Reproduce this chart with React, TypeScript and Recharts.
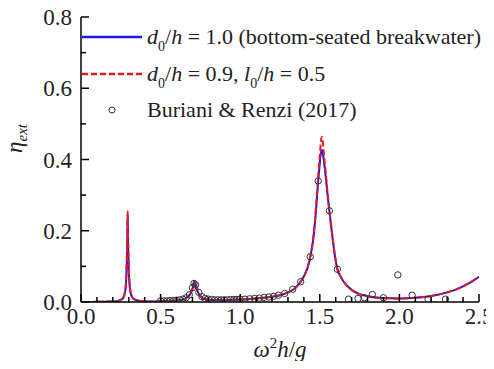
import { ComposedChart, Line, Scatter, XAxis, YAxis, Legend } from "recharts"

const serif = "'Liberation Serif', 'Times New Roman', serif"

// frequency grid shared by the two computed curves (omega^2 h / g)
const lineX = [
  0.05, 0.1, 0.15, 0.2, 0.23, 0.25, 0.26, 0.27, 0.278, 0.283, 0.286, 0.289, 0.291,
  0.293, 0.295, 0.297, 0.3, 0.304, 0.31, 0.32, 0.33, 0.35, 0.4, 0.45, 0.5, 0.55,
  0.6, 0.64, 0.67, 0.69, 0.7, 0.707, 0.713, 0.72, 0.728, 0.74, 0.76, 0.79, 0.85,
  0.9, 0.95, 1.0, 1.05, 1.1, 1.15, 1.2, 1.25, 1.3, 1.34, 1.38, 1.42, 1.44, 1.46,
  1.476, 1.49, 1.5, 1.506, 1.512, 1.518, 1.525, 1.53, 1.54, 1.55, 1.56, 1.58, 1.6,
  1.61, 1.63, 1.65, 1.7, 1.75, 1.8, 1.9, 2.0, 2.1, 2.2, 2.3, 2.35, 2.4, 2.45, 2.5,
]

// d0/h = 1.0 (bottom-seated breakwater)
const blueY = [
  0, 0.0005, 0.001, 0.0015, 0.003, 0.006, 0.009, 0.016, 0.032, 0.055, 0.085, 0.135, 0.185,
  0.245, 0.195, 0.145, 0.092, 0.055, 0.03, 0.015, 0.009, 0.005, 0.002, 0.0015, 0.002, 0.003,
  0.004, 0.007, 0.014, 0.025, 0.036, 0.048, 0.055, 0.049, 0.037, 0.022, 0.012, 0.007, 0.005,
  0.005, 0.006, 0.007, 0.008, 0.01, 0.012, 0.015, 0.019, 0.027, 0.037, 0.057, 0.092, 0.125, 0.18,
  0.256, 0.34, 0.39, 0.415, 0.427, 0.42, 0.4, 0.38, 0.34, 0.295, 0.256, 0.18, 0.115,
  0.092, 0.072, 0.057, 0.034, 0.022, 0.016, 0.011, 0.01, 0.012, 0.017, 0.027, 0.034, 0.044, 0.056, 0.071,
]

// d0/h = 0.9, l0/h = 0.5
const redY = [
  0, 0.0005, 0.001, 0.0015, 0.003, 0.006, 0.009, 0.017, 0.034, 0.058, 0.09, 0.142, 0.195,
  0.255, 0.205, 0.152, 0.097, 0.058, 0.032, 0.016, 0.009, 0.005, 0.002, 0.0015, 0.002, 0.003,
  0.004, 0.007, 0.015, 0.027, 0.039, 0.052, 0.06, 0.053, 0.04, 0.024, 0.013, 0.007, 0.005,
  0.005, 0.006, 0.007, 0.008, 0.01, 0.012, 0.015, 0.019, 0.027, 0.037, 0.058, 0.094, 0.128, 0.185,
  0.265, 0.355, 0.41, 0.445, 0.464, 0.452, 0.42, 0.395, 0.35, 0.3, 0.26, 0.182, 0.117,
  0.094, 0.073, 0.058, 0.034, 0.022, 0.016, 0.011, 0.01, 0.012, 0.017, 0.027, 0.034, 0.044, 0.056, 0.071,
]

// Buriani & Renzi (2017)
const expX = [
  0.5, 0.52, 0.54, 0.56, 0.58, 0.6, 0.62, 0.64, 0.66, 0.68, 0.7, 0.71, 0.72, 0.74, 0.76,
  0.78, 0.8, 0.82, 0.84, 0.86, 0.88, 0.9, 0.92, 0.94, 0.96, 0.98, 1.0, 1.03, 1.06, 1.09,
  1.12, 1.15, 1.18, 1.21, 1.24, 1.28, 1.33, 1.38, 1.44, 1.49, 1.56, 1.61, 1.68, 1.74,
  1.78, 1.83, 1.9, 1.99, 2.08, 2.18, 2.29,
]
const expY = [
  0.003, 0.003, 0.003, 0.004, 0.004, 0.005, 0.006, 0.008, 0.012, 0.02, 0.04, 0.052, 0.048, 0.027, 0.015,
  0.01, 0.008, 0.007, 0.006, 0.006, 0.006, 0.006, 0.006, 0.007, 0.007, 0.007, 0.008, 0.008, 0.009, 0.01,
  0.011, 0.013, 0.014, 0.016, 0.019, 0.024, 0.036, 0.057, 0.127, 0.34, 0.256, 0.092, 0.008, 0.01,
  0.012, 0.021, 0.012, 0.076, 0.019, 0.008, 0.008,
]

const xTicks = [
  0, 0.1, 0.2, 0.3, 0.4, 0.5, 0.6, 0.7, 0.8, 0.9, 1.0, 1.1, 1.2, 1.3, 1.4, 1.5, 1.6,
  1.7, 1.8, 1.9, 2.0, 2.1, 2.2, 2.3, 2.4, 2.5,
]
const yTicks = [0, 0.1, 0.2, 0.3, 0.4, 0.5, 0.6, 0.7, 0.8]

const blueData = lineX.map((x, i) => ({ x, y: blueY[i] }))
const redData = lineX.map((x, i) => ({ x, y: redY[i] }))
const expData = expX.map((x, i) => ({ x, y: expY[i] }))

const onStep = (v: number, step: number) => Math.abs(v / step - Math.round(v / step)) < 1e-6

const AXIS = { stroke: "#000", strokeWidth: 1.5 }

function BottomTick(props: any) {
  const { x, y, payload } = props
  const major = onStep(payload.value, 0.5)
  return (
    <g>
      <line x1={x} x2={x} y1={y} y2={y - (major ? 8 : 5)} stroke="#000" strokeWidth={1.5} />
      {major && (
        <text x={x} y={y + 22} textAnchor="middle" fontFamily={serif} fontSize={23} fill="#222">
          {payload.value.toFixed(1)}
        </text>
      )}
    </g>
  )
}

function TopTick(props: any) {
  const { x, y, payload } = props
  const major = onStep(payload.value, 0.5)
  return <line x1={x} x2={x} y1={y} y2={y + (major ? 8 : 5)} stroke="#000" strokeWidth={1.5} />
}

function LeftTick(props: any) {
  const { x, y, payload } = props
  const major = onStep(payload.value, 0.2)
  return (
    <g>
      <line x1={x} x2={x + (major ? 8 : 5)} y1={y} y2={y} stroke="#000" strokeWidth={1.5} />
      {major && (
        <text x={x - 9} y={y + 8} textAnchor="end" fontFamily={serif} fontSize={23} fill="#222">
          {payload.value.toFixed(1)}
        </text>
      )}
    </g>
  )
}

function RightTick(props: any) {
  const { x, y, payload } = props
  const major = onStep(payload.value, 0.2)
  return <line x1={x} x2={x - (major ? 8 : 5)} y1={y} y2={y} stroke="#000" strokeWidth={1.5} />
}

function XTitle(props: any) {
  const vb = props.viewBox
  return (
    <text x={vb.x + vb.width / 2} y={vb.y + 55} textAnchor="middle" fontFamily={serif} fontSize={23} fill="#222">
      <tspan fontStyle="italic">ω</tspan>
      <tspan fontSize={15} dy={-9}>2</tspan>
      <tspan fontStyle="italic" dy={9}>h</tspan>
      <tspan>/</tspan>
      <tspan fontStyle="italic">g</tspan>
    </text>
  )
}

function YTitle(props: any) {
  const vb = props.viewBox
  const cx = vb.x + 22
  const cy = vb.y + vb.height / 2 - 21
  return (
    <text transform={`translate(${cx},${cy}) rotate(-90)`} textAnchor="middle" fontFamily={serif} fontSize={23} fill="#222">
      <tspan fontStyle="italic">η</tspan>
      <tspan fontStyle="italic" fontSize={15} dy={5}>ext</tspan>
    </text>
  )
}

const sub = { fontSize: 14, position: "relative" as const, top: 7 }

function LegendBox() {
  const row = { display: "flex", alignItems: "center", height: 36.5, whiteSpace: "nowrap" as const }
  const label = { marginLeft: 5 }
  return (
    <div style={{ fontFamily: serif, fontSize: 22, color: "#222", lineHeight: 1 }}>
      <div style={row}>
        <svg width={60} height={10}>
          <line x1={0} x2={60} y1={5} y2={5} stroke="#1a1ae6" strokeWidth={2.5} />
        </svg>
        <span style={label}>
          <i>d</i><span style={sub}>0</span>/<i>h</i> = 1.0 (bottom-seated breakwater)
        </span>
      </div>
      <div style={row}>
        <svg width={60} height={10}>
          <line x1={0} x2={60} y1={5} y2={5} stroke="#f0141e" strokeWidth={2.5} strokeDasharray="6 3" />
        </svg>
        <span style={label}>
          <i>d</i><span style={sub}>0</span>/<i>h</i> = 0.9, <i>l</i><span style={sub}>0</span>/<i>h</i> = 0.5
        </span>
      </div>
      <div style={row}>
        <svg width={60} height={10}>
          <circle cx={30} cy={5} r={3} fill="none" stroke="#333" strokeWidth={1} />
        </svg>
        <span style={label}>Buriani &amp; Renzi (2017)</span>
      </div>
    </div>
  )
}

export default function App() {
  return (
    <div style={{ width: 494, height: 369, margin: -8, background: "#fff" }}>
      <ComposedChart width={494} height={369} margin={{ top: 17, right: 15, bottom: 0, left: 0 }}>
        <XAxis
          dataKey="x"
          type="number"
          domain={[0, 2.5]}
          ticks={xTicks}
          interval={0}
          allowDataOverflow
          height={67}
          axisLine={AXIS}
          tickLine={false}
          tickSize={0}
          tickMargin={0}
          tick={<BottomTick />}
          label={{ content: (p: any) => <XTitle {...p} /> }}
        />
        <XAxis
          xAxisId="top"
          orientation="top"
          dataKey="x"
          type="number"
          domain={[0, 2.5]}
          ticks={xTicks}
          interval={0}
          allowDataOverflow
          height={0}
          axisLine={AXIS}
          tickLine={false}
          tickSize={0}
          tickMargin={0}
          tick={<TopTick />}
        />
        <YAxis
          type="number"
          domain={[0, 0.8]}
          ticks={yTicks}
          interval={0}
          allowDataOverflow
          width={81}
          axisLine={AXIS}
          tickLine={false}
          tickSize={0}
          tickMargin={0}
          tick={<LeftTick />}
          label={{ content: (p: any) => <YTitle {...p} /> }}
        />
        <YAxis
          yAxisId="right"
          orientation="right"
          type="number"
          domain={[0, 0.8]}
          ticks={yTicks}
          interval={0}
          allowDataOverflow
          width={0}
          axisLine={AXIS}
          tickLine={false}
          tickSize={0}
          tickMargin={0}
          tick={<RightTick />}
        />
        <Legend
          layout="vertical"
          align="center"
          verticalAlign="middle"
          content={<LegendBox />}
          wrapperStyle={{ left: 82, top: 19, width: 405, height: 110 }}
        />
        <Line
          data={blueData}
          dataKey="y"
          type="monotone"
          stroke="#1a1ae6"
          strokeWidth={2}
          dot={false}
          isAnimationActive={false}
        />
        <Line
          data={redData}
          dataKey="y"
          type="monotone"
          stroke="#f0141e"
          strokeWidth={2}
          strokeDasharray="6 3"
          dot={false}
          isAnimationActive={false}
        />
        <Scatter
          data={expData}
          dataKey="y"
          isAnimationActive={false}
          shape={(p: any) => <circle cx={p.cx} cy={p.cy} r={3.2} fill="none" stroke="#333" strokeWidth={1} />}
        />
      </ComposedChart>
    </div>
  )
}
